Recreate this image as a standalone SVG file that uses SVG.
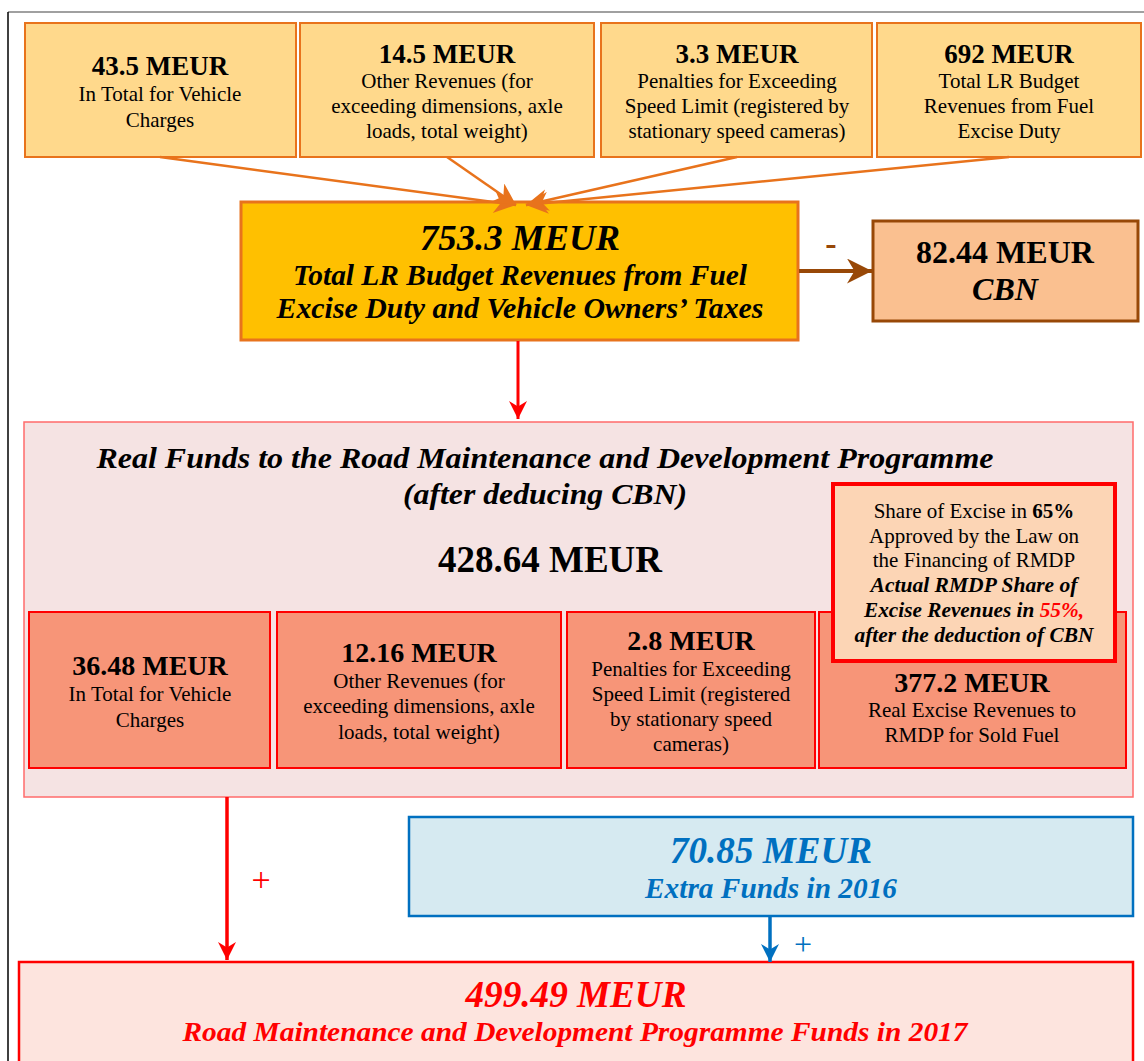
<svg xmlns="http://www.w3.org/2000/svg" width="1144" height="1061" viewBox="0 0 1144 1061">
<style>
text{font-family:"Liberation Serif","Times New Roman",serif;text-anchor:middle;fill:#000}
.r{font-size:21px}
.b{font-weight:bold}
.bi{font-weight:bold;font-style:italic}
.top{fill:#FFD98C;stroke:#E8731C;stroke-width:2}
.sub{fill:#F79578;stroke:#FF0000;stroke-width:2}
.red{fill:#FF0000}
.blue{fill:#0070C0}
</style>
<defs>
<marker id="ao" viewBox="0 0 20 20" markerUnits="userSpaceOnUse" markerWidth="28" markerHeight="22" refX="20" refY="10" orient="auto"><path d="M0,0 L20,10 L0,20 L6,10 z" fill="#E8731C"/></marker>
<marker id="ar" viewBox="0 0 20 20" markerUnits="userSpaceOnUse" markerWidth="24" markerHeight="18" refX="20" refY="10" orient="auto"><path d="M0,0 L20,10 L0,20 L6,10 z" fill="#FF0000"/></marker>
<marker id="ab" viewBox="0 0 20 20" markerUnits="userSpaceOnUse" markerWidth="24" markerHeight="18" refX="20" refY="10" orient="auto"><path d="M0,0 L20,10 L0,20 L6,10 z" fill="#0070C0"/></marker>
<marker id="aw" viewBox="0 0 20 20" markerUnits="userSpaceOnUse" markerWidth="26" markerHeight="25" refX="20" refY="10" orient="auto"><path d="M0,0 L20,10 L0,20 L6,10 z" fill="#984807"/></marker>
</defs>
<rect width="1144" height="1061" fill="#fff"/>
<g id="frame">
<line x1="8" y1="12" x2="1144" y2="12" stroke="#808080" stroke-width="1.5"/>
<line x1="8" y1="12" x2="8" y2="1061" stroke="#000" stroke-width="1.5"/>
</g>

<g id="n1"><rect class="top" x="25" y="23" width="271" height="134"/>
<text x="160" y="75" class="b" font-size="27">43.5 MEUR</text>
<text x="160" y="101" class="r">In Total for Vehicle</text>
<text x="160" y="127" class="r">Charges</text></g>

<g id="n2"><rect class="top" x="300" y="23" width="294" height="134"/>
<text x="447" y="63" class="b" font-size="27">14.5 MEUR</text>
<text x="447" y="88" class="r">Other Revenues (for</text>
<text x="447" y="113" class="r">exceeding dimensions, axle</text>
<text x="447" y="138" class="r">loads, total weight)</text></g>

<g id="n3"><rect class="top" x="601" y="23" width="271" height="134"/>
<text x="737" y="63" class="b" font-size="27">3.3 MEUR</text>
<text x="737" y="88" class="r">Penalties for Exceeding</text>
<text x="737" y="113" class="r">Speed Limit (registered by</text>
<text x="737" y="138" class="r">stationary speed cameras)</text></g>

<g id="n4"><rect class="top" x="877" y="23" width="264" height="134"/>
<text x="1009" y="63" class="b" font-size="27">692 MEUR</text>
<text x="1009" y="88" class="r">Total LR Budget</text>
<text x="1009" y="113" class="r">Revenues from Fuel</text>
<text x="1009" y="138" class="r">Excise Duty</text></g>

<g id="main"><rect x="241" y="202" width="557" height="138" fill="#FFC000" stroke="#E8731C" stroke-width="3"/>
<text x="520" y="250" class="bi" font-size="36" textLength="200" lengthAdjust="spacingAndGlyphs">753.3 MEUR</text>
<text x="520" y="285" class="bi" font-size="29" textLength="454" lengthAdjust="spacingAndGlyphs">Total LR Budget Revenues from Fuel</text>
<text x="520" y="318" class="bi" font-size="29" textLength="487" lengthAdjust="spacingAndGlyphs">Excise Duty and Vehicle Owners’ Taxes</text></g>

<g id="cbn"><rect x="873" y="221" width="265" height="100" fill="#FAC090" stroke="#984807" stroke-width="3"/>
<text x="1005" y="263" class="b" font-size="32">82.44 MEUR</text>
<text x="1005" y="300" class="bi" font-size="32">CBN</text></g>

<g id="real"><rect x="24" y="422" width="1109" height="375" fill="#F5E3E3" stroke="#FF6B6B" stroke-width="1.5"/>
<text x="545" y="468" class="bi" font-size="29" textLength="897" lengthAdjust="spacingAndGlyphs">Real Funds to the Road Maintenance and Development Programme</text>
<text x="545" y="504" class="bi" font-size="29" textLength="284" lengthAdjust="spacingAndGlyphs">(after deducing CBN)</text>
<text x="550" y="572" class="b" font-size="37">428.64 MEUR</text></g>

<g id="s1"><rect class="sub" x="29" y="612" width="241" height="156"/>
<text x="150" y="675" class="b" font-size="28">36.48 MEUR</text>
<text x="150" y="701" class="r">In Total for Vehicle</text>
<text x="150" y="727" class="r">Charges</text></g>

<g id="s2"><rect class="sub" x="277" y="612" width="284" height="156"/>
<text x="419" y="662" class="b" font-size="28">12.16 MEUR</text>
<text x="419" y="688" class="r">Other Revenues (for</text>
<text x="419" y="713" class="r">exceeding dimensions, axle</text>
<text x="419" y="739" class="r">loads, total weight)</text></g>

<g id="s3"><rect class="sub" x="567" y="612" width="248" height="156"/>
<text x="691" y="650" class="b" font-size="28">2.8 MEUR</text>
<text x="691" y="676" class="r">Penalties for Exceeding</text>
<text x="691" y="701" class="r">Speed Limit (registered</text>
<text x="691" y="726" class="r">by stationary speed</text>
<text x="691" y="751" class="r">cameras)</text></g>

<g id="s4"><rect class="sub" x="819" y="612" width="307" height="156"/>
<text x="972" y="692" class="b" font-size="28">377.2 MEUR</text>
<text x="972" y="717" class="r">Real Excise Revenues to</text>
<text x="972" y="742" class="r">RMDP for Sold Fuel</text></g>

<g id="share"><rect x="833" y="484" width="282" height="177" fill="#FCD5B5" stroke="#FF0000" stroke-width="4"/>
<text x="974" y="518" class="r">Share of Excise in <tspan class="b">65%</tspan></text>
<text x="974" y="543" class="r">Approved by the Law on</text>
<text x="974" y="567" class="r">the Financing of RMDP</text>
<text x="974" y="592" class="r bi" textLength="207" lengthAdjust="spacingAndGlyphs">Actual RMDP Share of</text>
<text x="974" y="617" class="r bi" textLength="220" lengthAdjust="spacingAndGlyphs">Excise Revenues in <tspan class="red">55%,</tspan></text>
<text x="974" y="642" class="r bi" textLength="239" lengthAdjust="spacingAndGlyphs">after the deduction of CBN</text></g>

<g id="extra"><rect x="409" y="817" width="724" height="99" fill="#D6EAF1" stroke="#0070C0" stroke-width="2.5"/>
<text x="771" y="863" class="bi blue" font-size="37" textLength="202" lengthAdjust="spacingAndGlyphs">70.85 MEUR</text>
<text x="771" y="898" class="bi blue" font-size="29" textLength="252" lengthAdjust="spacingAndGlyphs">Extra Funds in 2016</text></g>

<g id="total"><rect x="19" y="962" width="1114" height="110" fill="#FDE4DE" stroke="#FF0000" stroke-width="2.5"/>
<text x="576" y="1007" class="bi red" font-size="37" textLength="221" lengthAdjust="spacingAndGlyphs">499.49 MEUR</text>
<text x="575" y="1041" class="bi red" font-size="28" textLength="785" lengthAdjust="spacingAndGlyphs">Road Maintenance and Development Programme Funds in 2017</text></g>

<g id="connectors" fill="none">
<line x1="160" y1="157" x2="516" y2="205" stroke="#E8731C" stroke-width="2.5" marker-end="url(#ao)"/>
<line x1="447" y1="157" x2="516" y2="205" stroke="#E8731C" stroke-width="2.5" marker-end="url(#ao)"/>
<line x1="737" y1="157" x2="526" y2="205" stroke="#E8731C" stroke-width="2.5" marker-end="url(#ao)"/>
<line x1="1009" y1="157" x2="526" y2="205" stroke="#E8731C" stroke-width="2.5" marker-end="url(#ao)"/>
<line x1="799" y1="271" x2="872" y2="271" stroke="#984807" stroke-width="4" marker-end="url(#aw)"/>
<line x1="518" y1="341" x2="518" y2="419" stroke="#FF0000" stroke-width="3" marker-end="url(#ar)"/>
<line x1="227" y1="797" x2="227" y2="960" stroke="#FF0000" stroke-width="3.5" marker-end="url(#ar)"/>
<line x1="770" y1="917" x2="770" y2="962" stroke="#0070C0" stroke-width="3.5" marker-end="url(#ab)"/>
<text x="831" y="255" class="b" font-size="34" style="fill:#984807">-</text>
<text x="261" y="891" font-size="34" style="fill:#FF0000">+</text>
<text x="803" y="955" font-size="32" style="fill:#0070C0">+</text>
</g>
</svg>
